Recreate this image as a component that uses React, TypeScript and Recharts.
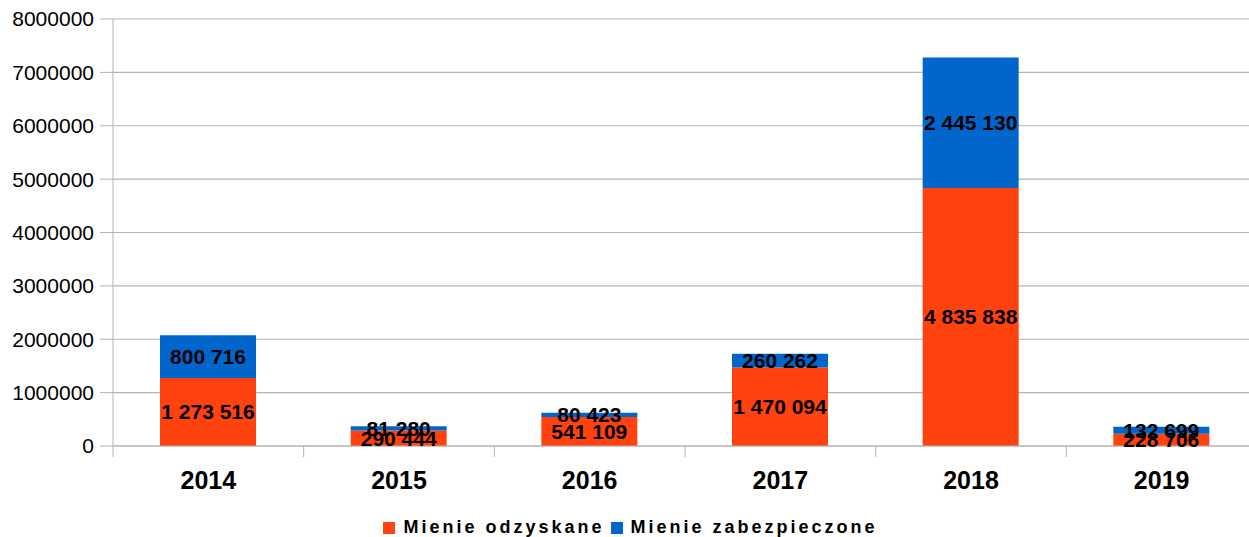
import React from 'react';
import {
    Bar,
    BarChart,
    CartesianGrid,
    LabelList,
    Legend,
    XAxis,
    YAxis,
} from 'recharts';

const years = ['2014', '2015', '2016', '2017', '2018', '2019'];
const odzyskane = [1273516, 290444, 541109, 1470094, 4835838, 228706];
const zabezpieczone = [800716, 81280, 80423, 260262, 2445130, 132699];
const yTicks = [0, 1000000, 2000000, 3000000, 4000000, 5000000, 6000000, 7000000, 8000000];

const RED = '#ff420e';
const BLUE = '#0066cc';
const GRID = '#b3b3b3';
const FONT = '"Liberation Sans", Arial, sans-serif';

const data = years.map((y, i) => ({
    year: y,
    odzyskane: odzyskane[i],
    zabezpieczone: zabezpieczone[i],
}));

const fmt = (v: any) => String(v).replace(/\B(?=(\d{3})+(?!\d))/g, ' ');

const BAND = (1257 - 113) / years.length;

function XTick(props: any) {
    const { x, y, payload } = props;
    return (
        <g>
            <line x1={x - BAND / 2} x2={x - BAND / 2} y1={y - 8} y2={y + 3} stroke={GRID} />
            <text
                x={x}
                y={y + 35}
                textAnchor="middle"
                fontFamily={FONT}
                fontWeight="bold"
                fontSize={25}
                fill="#000"
            >
                {payload.value}
            </text>
        </g>
    );
}

function LegendContent() {
    const items = [
        { name: 'Mienie odzyskane', color: RED },
        { name: 'Mienie zabezpieczone', color: BLUE },
    ];
    return (
        <div
            style={{
                display: 'flex',
                justifyContent: 'center',
                alignItems: 'center',
                fontFamily: FONT,
                fontWeight: 'bold',
                fontSize: 18,
                letterSpacing: 3,
                color: '#000',
                paddingTop: 2,
                paddingLeft: 10,
            }}
        >
            {items.map((it) => (
                <span key={it.name} style={{ display: 'flex', alignItems: 'center', marginRight: 6 }}>
                    <span
                        style={{
                            width: 12,
                            height: 12,
                            background: it.color,
                            display: 'inline-block',
                            marginRight: 8,
                        }}
                    />
                    {it.name}
                </span>
            ))}
        </div>
    );
}

export default function App() {
    return (
        <div style={{ position: 'absolute', left: 0, top: 0, width: 1249, height: 537, overflow: 'hidden', background: '#fff' }}>
            <BarChart
                width={1270}
                height={537}
                data={data}
                margin={{ top: 19, right: 13, left: 0, bottom: 0 }}
                barSize={96}
            >
                <CartesianGrid vertical={false} stroke={GRID} strokeWidth={1.2} />
                <YAxis
                    width={113}
                    domain={[0, 8000000]}
                    ticks={yTicks}
                    interval={0}
                    tickSize={13}
                    tickMargin={6}
                    axisLine={{ stroke: GRID }}
                    tickLine={{ stroke: GRID }}
                    tick={{ fill: '#000', fontSize: 21, fontFamily: FONT }}
                />
                <XAxis
                    dataKey="year"
                    height={69}
                    axisLine={{ stroke: GRID, strokeWidth: 1.2 }}
                    tickLine={false}
                    tick={<XTick />}
                    interval={0}
                />
                <Legend verticalAlign="bottom" height={22} content={<LegendContent />} />
                <Bar dataKey="odzyskane" stackId="a" fill={RED} isAnimationActive={false}>
                    <LabelList
                        dataKey="odzyskane"
                        position="center"
                        formatter={fmt}
                        fill="#000"
                        fontFamily={FONT}
                        fontWeight="bold"
                        fontSize={21}
                    />
                </Bar>
                <Bar dataKey="zabezpieczone" stackId="a" fill={BLUE} isAnimationActive={false}>
                    <LabelList
                        dataKey="zabezpieczone"
                        position="center"
                        formatter={fmt}
                        fill="#000"
                        fontFamily={FONT}
                        fontWeight="bold"
                        fontSize={21}
                    />
                </Bar>
            </BarChart>
        </div>
    );
}
